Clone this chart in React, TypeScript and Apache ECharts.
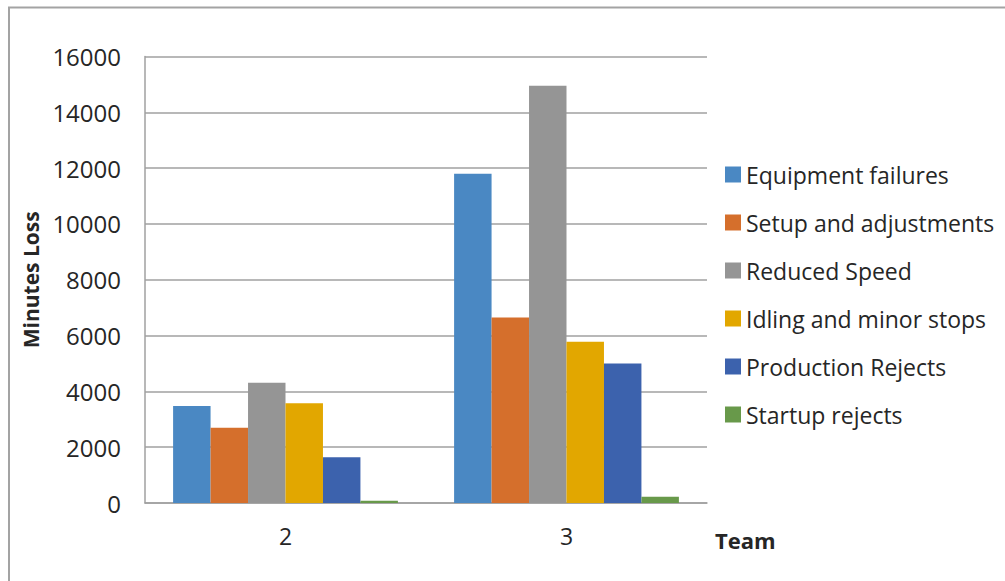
import React, { useEffect, useRef } from "react";
import * as echarts from "echarts";

// Teams on the category axis
const teams = ["2", "3"];

// Minutes lost per loss type, one value per team
const equipmentFailures = [3480, 11800];
const setupAndAdjustments = [2700, 6650];
const reducedSpeed = [4310, 14950];
const idlingAndMinorStops = [3570, 5780];
const productionRejects = [1640, 5000];
const startupRejects = [80, 220];

const seriesNames = [
  "Equipment failures",
  "Setup and adjustments",
  "Reduced Speed",
  "Idling and minor stops",
  "Production Rejects",
  "Startup rejects",
];
const seriesValues = [
  equipmentFailures,
  setupAndAdjustments,
  reducedSpeed,
  idlingAndMinorStops,
  productionRejects,
  startupRejects,
];
const colors = ["#4A88C3", "#D56F2C", "#959595", "#E2A700", "#3C62AD", "#68994A"];

const FONT = "'Open Sans', Lato, sans-serif";
const TEXT = "#262626";

export default function App() {
  const ref = useRef<HTMLDivElement>(null);

  useEffect(() => {
    if (!ref.current) return;
    const chart = echarts.init(ref.current, null, { renderer: "svg" });
    chart.setOption({
      animation: false,
      backgroundColor: "#ffffff",
      color: colors,
      textStyle: { fontFamily: FONT, color: TEXT },
      grid: { left: 145, right: 298, top: 56.5, bottom: 78, containLabel: false },
      legend: {
        orient: "vertical",
        left: 725,
        top: 163,
        padding: 0,
        itemWidth: 16,
        itemHeight: 16,
        itemGap: 25,
        icon: "rect",
        textStyle: { fontFamily: FONT, fontSize: 23, color: TEXT },
        data: seriesNames,
      },
      xAxis: {
        type: "category",
        data: teams,
        name: "Team",
        nameLocation: "end",
        nameGap: 8,
        nameTextStyle: {
          fontFamily: FONT,
          fontSize: 22,
          fontWeight: "bold",
          color: TEXT,
          align: "left",
          verticalAlign: "top",
          padding: [26, 0, 0, 0],
        },
        axisLine: { show: true, lineStyle: { color: "#a0a0a0", width: 1.5 } },
        axisTick: { show: false },
        axisLabel: { fontFamily: FONT, fontSize: 23, color: TEXT, margin: 21 },
      },
      yAxis: {
        type: "value",
        min: 0,
        max: 16000,
        interval: 2000,
        name: "Minutes Loss",
        nameLocation: "middle",
        nameRotate: 90,
        nameGap: 104,
        nameTextStyle: { fontFamily: FONT, fontSize: 21, fontWeight: "bold", color: TEXT },
        axisLine: { show: true, lineStyle: { color: "#a0a0a0", width: 1.5 } },
        axisTick: { show: false },
        axisLabel: {
          fontFamily: FONT,
          fontSize: 24,
          color: TEXT,
          margin: 24,
          formatter: (v: number) => String(v),
        },
        splitLine: { show: true, lineStyle: { color: "#a0a0a0", width: 1.5 } },
      },
      series: seriesNames.map((name, i) => ({
        name,
        type: "bar",
        data: seriesValues[i],
        barGap: "0%",
        barCategoryGap: "20%",
        itemStyle: { color: colors[i] },
      })),
      graphic: [
        {
          type: "line",
          shape: { x1: 9, y1: 7, x2: 9, y2: 581 },
          style: { stroke: "#a3a3a3", lineWidth: 2 },
          silent: true,
        },
        {
          type: "line",
          shape: { x1: 8, y1: 7.5, x2: 1005, y2: 7.5 },
          style: { stroke: "#a3a3a3", lineWidth: 2 },
          silent: true,
        },
      ],
    });
    return () => chart.dispose();
  }, []);

  return (
    <div
      ref={ref}
      style={{ position: "fixed", left: 0, top: 0, width: 1005, height: 581 }}
    />
  );
}
